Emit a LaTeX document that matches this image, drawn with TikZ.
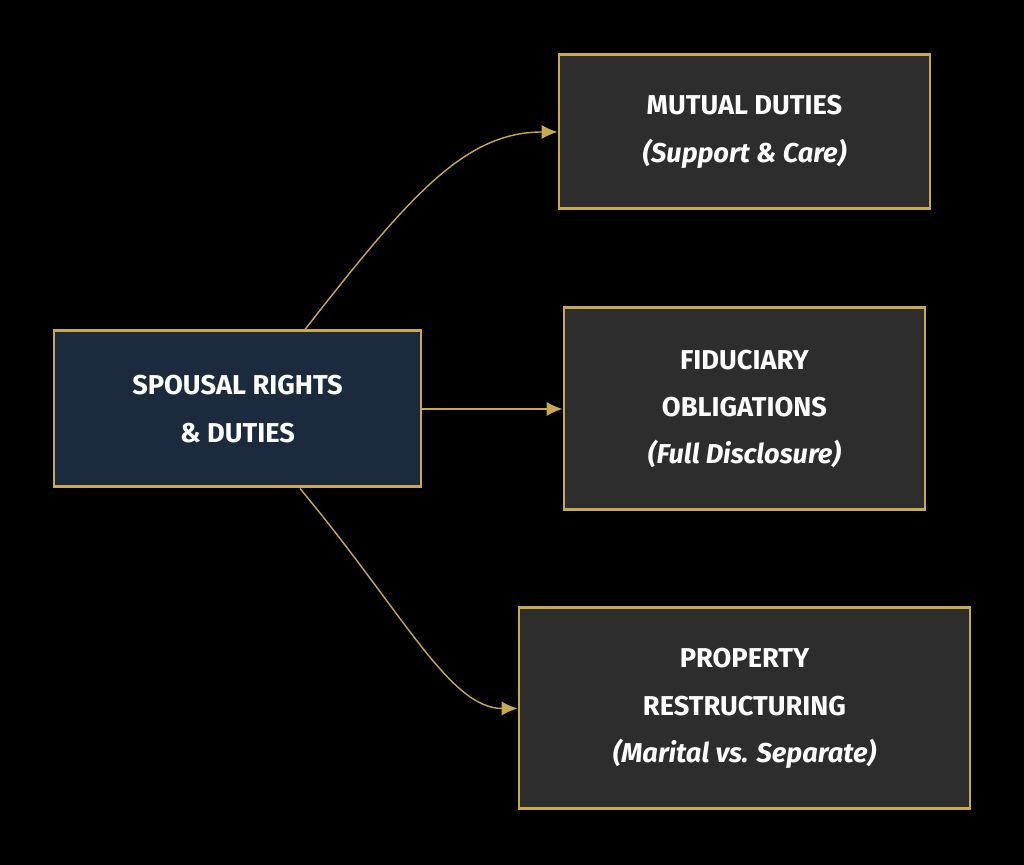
\documentclass[tikz,border=0pt]{standalone}
\usepackage{fontspec}
\setmainfont{Fira Sans}
\usetikzlibrary{arrows.meta, calc}
\definecolor{gold}{HTML}{C9A94F}
\definecolor{navy}{HTML}{1B2A3D}
\definecolor{panel}{HTML}{2D2D2D}
\tikzset{
  box/.style={draw=gold, line width=1.7pt, fill=panel, text=white, align=center,
    font=\fontsize{15.5}{27}\selectfont\bfseries, inner sep=0pt},
  link/.style={draw=gold, line width=0.8pt, -{Latex[length=9pt,width=8pt]}}
}
\begin{document}
\begin{tikzpicture}
    \fill[black] (0,0) rectangle (20.48,17.3);
    \useasboundingbox (0,0) rectangle (20.48,17.3);
    \node[box, fill=navy, minimum width=7.34cm, minimum height=3.12cm] at (4.75, 9.12) (main) {SPOUSAL RIGHTS\\\& DUTIES};
    \node[box, minimum width=7.42cm, minimum height=3.08cm] at (14.89, 14.66) (duties) {MUTUAL DUTIES\\\textit{(Support \& Care)}};
    \node[box, minimum width=7.22cm, minimum height=4.04cm] at (14.89, 9.12) (fiduciary) {FIDUCIARY\\OBLIGATIONS\\\textit{(Full Disclosure)}};
    \node[box, minimum width=9.02cm, minimum height=4.02cm] at (14.89, 3.13) (property) {PROPERTY\\RESTRUCTURING\\\textit{(Marital vs. Separate)}};

    \draw[link] ($(main.north)+(1.35,0)$) .. controls (8.2,13.4) and (9.3,14.66) .. (duties.west);
    \draw[link] (main.east) -- (fiduciary.west);
    \draw[link] ($(main.south)+(1.25,0)$) .. controls (8.1,5.0) and (9.0,3.13) .. (property.west);
\end{tikzpicture}
\end{document}
